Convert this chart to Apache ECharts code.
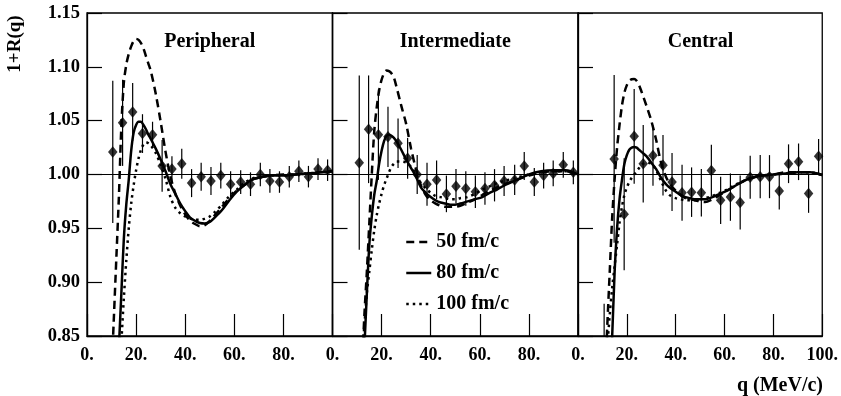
<!DOCTYPE html>
<html>
<head>
<meta charset="utf-8">
<script src="https://cdn.jsdelivr.net/npm/echarts@6/dist/echarts.min.js"></script>
<style>
  html, body { margin: 0; padding: 0; background: #fff; }
  #chart { width: 841px; height: 396px; }
</style>
</head>
<body>
<div id="chart"></div>
<script>
// panel titles
const panelTitles = ['Peripheral', 'Intermediate', 'Central'];
const legendNames = ['50 fm/c', '80 fm/c', '100 fm/c'];

// q sampling of the model curves (MeV/c)
const curveQ = [10, 11, 12, 13, 14, 15, 16, 17, 18, 19, 20, 21, 22, 23, 24, 25, 26, 28, 30, 32, 34, 36, 38, 40, 42, 44, 46, 48, 50, 52, 55, 58, 61, 64, 67, 70, 75, 80, 85, 90, 95, 100];

// Peripheral curves
const periDashed = [0.815, 0.87, 0.925, 0.98, 1.045, 1.085, 1.102, 1.112, 1.119, 1.124, 1.126, 1.125, 1.122, 1.117, 1.110, 1.103, 1.096, 1.075, 1.049, 1.021, 0.998, 0.982, 0.971, 0.963, 0.957, 0.954, 0.952, 0.953, 0.957, 0.962, 0.970, 0.978, 0.985, 0.990, 0.995, 0.997, 0.999, 1.0, 1.0, 1.001, 1.002, 1.003];
const periSolid = [null, null, 0.79, 0.84, 0.89, 0.94, 0.972, 0.995, 1.022, 1.039, 1.046, 1.049, 1.049, 1.046, 1.042, 1.037, 1.033, 1.024, 1.014, 1.003, 0.991, 0.982, 0.973, 0.966, 0.960, 0.957, 0.955, 0.9545, 0.956, 0.960, 0.967, 0.976, 0.984, 0.990, 0.995, 0.997, 0.999, 0.999, 1.0, 1.001, 1.002, 1.003];
const periDotted = [null, null, null, 0.81, 0.845, 0.885, 0.92, 0.95, 0.973, 0.99, 1.004, 1.015, 1.023, 1.028, 1.030, 1.029, 1.027, 1.020, 1.009, 0.996, 0.979, 0.969, 0.964, 0.961, 0.959, 0.958, 0.958, 0.959, 0.961, 0.965, 0.972, 0.980, 0.986, 0.992, 0.996, 0.998, 0.999, 0.999, 1.0, 1.001, 1.002, 1.003];

// Intermediate curves
const interDashed = [null, null, 0.82, 0.87, 0.91, 0.955, 1.0, 1.04, 1.062, 1.078, 1.088, 1.094, 1.0965, 1.096, 1.094, 1.09, 1.082, 1.064, 1.047, 1.024, 1.005, 0.99, 0.981, 0.976, 0.973, 0.971, 0.970, 0.970, 0.970, 0.971, 0.974, 0.977, 0.981, 0.985, 0.988, 0.991, 0.995, 0.999, 1.002, 1.003, 1.003, 1.0];
const interSolid = [null, null, 0.79, 0.84, 0.89, 0.935, 0.961, 0.981, 0.994, 1.01, 1.022, 1.031, 1.036, 1.037, 1.036, 1.034, 1.031, 1.023, 1.014, 1.006, 0.998, 0.988, 0.983, 0.979, 0.976, 0.974, 0.973, 0.972, 0.972, 0.973, 0.975, 0.977, 0.979, 0.983, 0.986, 0.99, 0.995, 1.0, 1.003, 1.004, 1.004, 1.0];
const interDotted = [null, 0.80, 0.83, 0.86, 0.89, 0.91, 0.93, 0.948, 0.962, 0.973, 0.982, 0.99, 0.996, 1.002, 1.007, 1.010, 1.012, 1.012, 1.011, 1.007, 1.0, 0.992, 0.987, 0.983, 0.98, 0.979, 0.978, 0.977, 0.977, 0.978, 0.979, 0.982, 0.986, 0.989, 0.992, 0.994, 0.997, 1.0, 1.002, 1.003, 1.003, 1.0];

// Central curves
const centDashed = [null, 0.80, 0.86, 0.91, 0.96, 0.996, 1.025, 1.046, 1.064, 1.076, 1.083, 1.087, 1.0885, 1.0888, 1.087, 1.083, 1.077, 1.064, 1.05, 1.032, 1.011, 0.998, 0.99, 0.985, 0.981, 0.978, 0.977, 0.976, 0.975, 0.9745, 0.977, 0.981, 0.985, 0.989, 0.993, 0.996, 0.999, 1.0, 1.002, 1.002, 1.002, 0.9995];
const centSolid = [null, null, null, 0.80, 0.85, 0.91, 0.95, 0.977, 0.995, 1.01, 1.018, 1.023, 1.025, 1.0255, 1.025, 1.023, 1.021, 1.017, 1.011, 1.005, 0.997, 0.991, 0.987, 0.984, 0.981, 0.979, 0.978, 0.977, 0.977, 0.977, 0.979, 0.982, 0.985, 0.989, 0.993, 0.996, 0.999, 1.0, 1.001, 1.002, 1.002, 0.9995];
const centDotted = [null, 0.81, 0.84, 0.87, 0.895, 0.915, 0.935, 0.955, 0.97, 0.981, 0.988, 0.993, 0.997, 1.0, 1.003, 1.006, 1.009, 1.011, 1.01, 1.004, 0.994, 0.985, 0.98, 0.978, 0.977, 0.976, 0.976, 0.976, 0.977, 0.978, 0.98, 0.983, 0.986, 0.99, 0.993, 0.996, 0.999, 1.0, 1.001, 1.002, 1.002, 0.9995];

// measured points: q, 1+R(q), error
const periQ = [10.5, 14.5, 18.6, 22.6, 26.7, 30.6, 34.6, 38.6, 42.6, 46.5, 50.5, 54.5, 58.5, 62.6, 66.6, 70.6, 74.5, 78.4, 82.4, 86.3, 90.2, 94.1, 98.0];
const periVal = [1.021, 1.048, 1.058, 1.038, 1.037, 1.008, 1.005, 1.010, 0.992, 0.998, 0.994, 0.999, 0.991, 0.993, 0.991, 1.000, 0.994, 0.993, 0.998, 1.003, 0.998, 1.005, 1.004];
const periErr = [0.066, 0.040, 0.027, 0.018, 0.012, 0.024, 0.012, 0.014, 0.013, 0.013, 0.013, 0.012, 0.012, 0.011, 0.011, 0.011, 0.011, 0.010, 0.010, 0.010, 0.010, 0.010, 0.010];

const interQ = [10.9, 14.7, 18.7, 22.6, 26.7, 30.6, 34.5, 38.5, 42.4, 46.4, 50.3, 54.3, 58.2, 62.1, 66.0, 69.9, 74.2, 78.1, 82.2, 86.0, 89.9, 94.0, 98.1];
const interVal = [1.011, 1.042, 1.037, 1.035, 1.029, 1.015, 1.000, 0.991, 0.995, 0.982, 0.989, 0.987, 0.984, 0.987, 0.990, 0.994, 0.995, 1.008, 0.993, 0.999, 1.001, 1.009, 1.002];
const interErr = [0.081, 0.050, 0.042, 0.028, 0.023, 0.019, 0.018, 0.020, 0.018, 0.017, 0.016, 0.016, 0.015, 0.015, 0.015, 0.014, 0.014, 0.013, 0.013, 0.012, 0.012, 0.012, 0.011];

const centQ = [10.7, 14.8, 18.9, 23.0, 26.7, 30.7, 34.8, 38.5, 42.6, 46.5, 50.5, 54.6, 58.4, 62.4, 66.4, 70.5, 74.6, 78.4, 82.4, 86.2, 90.3, 94.4, 98.5];
const centVal = [0.81, 1.0145, 0.963, 1.0355, 1.010, 1.0176, 1.0086, 0.993, 0.983, 0.9836, 0.983, 1.0037, 0.976, 0.979, 0.974, 0.9975, 0.998, 0.998, 0.9846, 1.010, 1.0118, 0.9824, 1.017];
const centErr = [0.07, 0.078, 0.052, 0.044, 0.036, 0.028, 0.028, 0.027, 0.026, 0.023, 0.022, 0.024, 0.022, 0.022, 0.025, 0.020, 0.020, 0.020, 0.017, 0.018, 0.017, 0.018, 0.016];

const panels = [
    { curves: [periDashed, periSolid, periDotted], q: periQ, val: periVal, err: periErr },
    { curves: [interDashed, interSolid, interDotted], q: interQ, val: interVal, err: interErr },
    { curves: [centDashed, centSolid, centDotted], q: centQ, val: centVal, err: centErr },
];

const FONT = '"Liberation Serif", "DejaVu Serif", serif';
const gridLeft = [87, 332.5, 578];
const gridWidth = [245.5, 245.5, 245];
const lineTypes = [[8, 5], 'solid', [2.5, 4]];

const chart = echarts.init(document.getElementById('chart'), null, { renderer: 'canvas' });

const grid = gridLeft.map((left, i) => ({
    left,
    top: 13,
    width: gridWidth[i],
    height: 323,
    show: true,
    borderColor: '#000',
    borderWidth: 1.3,
    backgroundColor: 'transparent',
}));

const xAxis = panels.map((p, i) => ({
    type: 'value',
    gridIndex: i,
    min: 0,
    max: 100,
    interval: 20,
    axisLine: { show: true, lineStyle: { color: '#000', width: 1.3 } },
    axisTick: { show: true, inside: true, length: 22, lineStyle: { color: '#000', width: 1.2 } },
    axisLabel: {
        showMaxLabel: i === 2,
        margin: 10,
        color: '#000',
        fontFamily: FONT,
        fontWeight: 'bold',
        fontSize: 18,
        formatter: v => v + '.',
    },
    splitLine: { show: false },
}));

const yAxis = panels.map((p, i) => ({
    type: 'value',
    gridIndex: i,
    min: 0.85,
    max: 1.15,
    interval: 0.05,
    axisLine: { show: true, lineStyle: { color: '#000', width: 1.3 } },
    axisTick: { show: true, inside: true, length: 15, lineStyle: { color: '#000', width: 1.2 } },
    axisLabel: {
        show: i === 0,
        margin: 7,
        color: '#000',
        fontFamily: FONT,
        fontWeight: 'bold',
        fontSize: 18.5,
        formatter: v => v.toFixed(2),
    },
    splitLine: { show: false },
}));

const series = [];
panels.forEach((p, i) => {
    p.curves.forEach((arr, k) => {
        series.push({
            name: legendNames[k],
            type: 'line',
            xAxisIndex: i,
            yAxisIndex: i,
            symbol: 'none',
            smooth: 0.3,
            clip: true,
            color: '#000',
            lineStyle: { color: '#000', width: 2.5, type: lineTypes[k] },
            data: curveQ.map((q, j) => [q, arr[j]]),
            z: 3,
        });
    });
    // error bars
    series.push({
        type: 'custom',
        xAxisIndex: i,
        yAxisIndex: i,
        clip: true,
        encode: { x: 0, y: [1, 2] },
        data: p.q.map((q, j) => [q, p.val[j] - p.err[j], p.val[j] + p.err[j]]),
        renderItem: (params, api) => {
            const a = api.coord([api.value(0), api.value(1)]);
            const b = api.coord([api.value(0), api.value(2)]);
            return {
                type: 'line',
                shape: { x1: a[0], y1: a[1], x2: b[0], y2: b[1] },
                style: { stroke: '#000', lineWidth: 1.2 },
            };
        },
        z: 4,
    });
    // data points + unity line
    series.push({
        type: 'scatter',
        xAxisIndex: i,
        yAxisIndex: i,
        symbol: 'diamond',
        symbolSize: [9.5, 11.5],
        clip: true,
        itemStyle: { color: '#000' },
        data: p.q.map((q, j) => [q, p.val[j]]),
        markLine: {
            silent: true,
            symbol: 'none',
            label: { show: false },
            lineStyle: { color: '#000', width: 1, type: 'solid' },
            data: [{ yAxis: 1 }],
        },
        z: 5,
    });
});

const graphic = panelTitles.map((t, i) => ({
    type: 'text',
    x: gridLeft[i] + gridWidth[i] / 2,
    y: 42,
    style: {
        text: t,
        fill: '#000',
        font: 'bold 20px ' + FONT,
        textAlign: 'center',
        textVerticalAlign: 'middle',
    },
}));
graphic.push({
    type: 'text',
    x: 15,
    y: 44,
    rotation: Math.PI / 2,
    style: {
        text: '1+R(q)',
        fill: '#000',
        font: 'bold 19px ' + FONT,
        textAlign: 'center',
        textVerticalAlign: 'middle',
    },
});
graphic.push({
    type: 'text',
    x: 823,
    y: 386,
    style: {
        text: 'q (MeV/c)',
        fill: '#000',
        font: 'bold 20px ' + FONT,
        textAlign: 'right',
        textVerticalAlign: 'middle',
    },
});

chart.setOption({
    animation: false,
    backgroundColor: '#fff',
    grid,
    xAxis,
    yAxis,
    legend: {
        data: legendNames,
        orient: 'vertical',
        left: 405,
        top: 232,
        padding: 0,
        itemWidth: 25,
        itemHeight: 14,
        itemGap: 11,
        selectedMode: false,
        itemStyle: { color: 'rgba(0,0,0,0)', borderWidth: 0, opacity: 0 },
        lineStyle: { color: '#000', width: 2.5 },
        textStyle: { color: '#000', fontFamily: FONT, fontWeight: 'bold', fontSize: 20, padding: [0, 0, 0, 0] },
    },
    graphic,
    series,
});
</script>
</body>
</html>
